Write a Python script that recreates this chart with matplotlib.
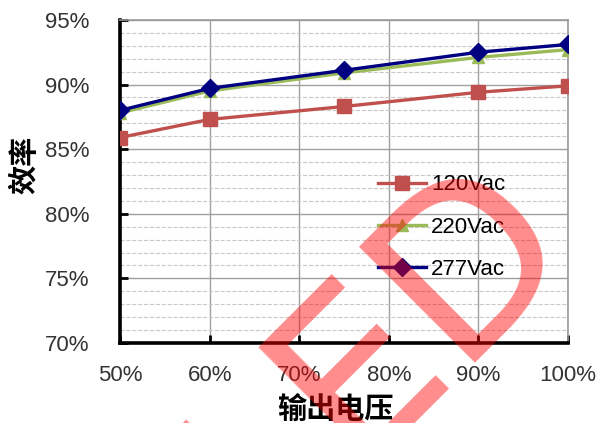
import matplotlib.pyplot as plt
from matplotlib.ticker import MultipleLocator, FuncFormatter

plt.rcParams['font.family'] = ['Liberation Sans', 'Noto Sans CJK SC', 'DejaVu Sans']

# --------------------------------------------
# Data
# --------------------------------------------

load = [50, 60, 75, 90, 100]

eff_120 = [85.9, 87.3, 88.3, 89.4, 89.9]
eff_220 = [87.8, 89.5, 90.9, 92.1, 92.7]
eff_277 = [88.0, 89.7, 91.1, 92.5, 93.1]

# --------------------------------------------
# Figure
# --------------------------------------------

fig = plt.figure(figsize=(5.98, 4.23), dpi=100)
ax = fig.add_axes([0.2007, 0.189, 0.7493, 0.764])

ax.plot(load, eff_120, color="#C0504D", linewidth=2.4,
        marker="s", markersize=10, label="120Vac", zorder=3)
ax.plot(load, eff_220, color="#9BBB59", linewidth=2.4,
        marker="^", markersize=8, label="220Vac", zorder=3)
ax.plot(load, eff_277, color="#000080", linewidth=2.4,
        marker="D", markersize=9, label="277Vac", zorder=4)

ax.set_xlim(50, 100)
ax.set_ylim(70, 95)

ax.xaxis.set_major_locator(MultipleLocator(10))
ax.yaxis.set_major_locator(MultipleLocator(5))
ax.yaxis.set_minor_locator(MultipleLocator(1))

pct = FuncFormatter(lambda v, p: f"{v:.0f}%")
ax.xaxis.set_major_formatter(pct)
ax.yaxis.set_major_formatter(pct)

ax.grid(True, which="major", color="#a0a0a0", linewidth=1.0)
ax.grid(True, which="minor", axis="y", color="#c8c8c8",
        linestyle="--", linewidth=0.8)
ax.set_axisbelow(True)

ax.tick_params(axis="both", which="major", direction="in", length=6,
               width=2, labelsize=16, colors="black", labelcolor="#333333")
ax.tick_params(axis="x", pad=16)
ax.tick_params(axis="y", pad=22)
ax.tick_params(which="minor", length=0)

for side in ["left", "bottom"]:
    ax.spines[side].set_linewidth(2.6)
    ax.spines[side].set_color("black")
for side in ["top", "right"]:
    ax.spines[side].set_linewidth(1.2)
    ax.spines[side].set_color("#999999")

ax.set_ylabel("效率", fontsize=21, fontweight="bold")
ax.yaxis.set_label_coords(-0.18, 0.55)
ax.set_xlabel("输出电压", fontsize=21, fontweight="bold")
ax.xaxis.set_label_coords(0.48, -0.165)

ax.legend(loc="upper left", bbox_to_anchor=(0.54, 0.57), frameon=False,
          fontsize=16, handlelength=2.2, labelspacing=0.95,
          handletextpad=0.2, borderpad=0.2)

# watermark
fig.text(0.63, 0.17, "LED", rotation=45, fontsize=162,
         family="DejaVu Sans", color="#ff0000", alpha=0.45,
         ha="center", va="center")

plt.savefig("out.png", dpi=100)
